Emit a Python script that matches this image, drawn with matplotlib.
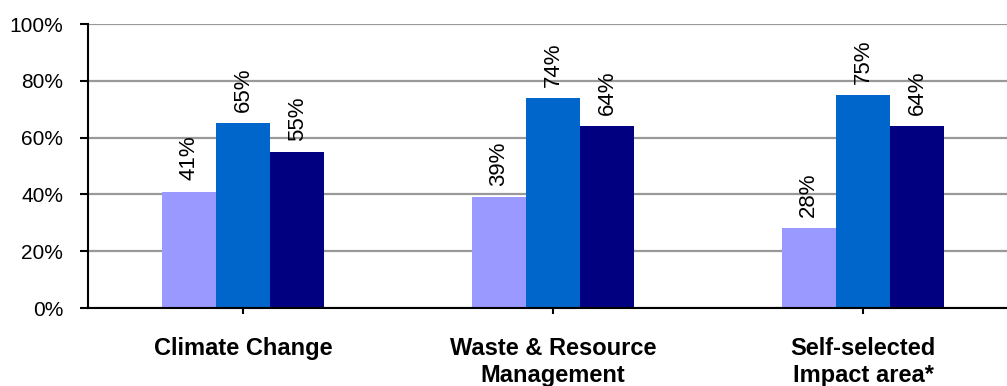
import matplotlib
matplotlib.use("Agg")
import matplotlib.pyplot as plt
import numpy as np

plt.rcParams['font.family'] = ['Liberation Sans', 'DejaVu Sans']

categories = ["Climate Change", "Waste & Resource\nManagement", "Self-selected\nImpact area*"]
series_a = [41, 39, 28]
series_b = [65, 74, 75]
series_c = [55, 64, 64]
y_ticks = [0, 20, 40, 60, 80, 100]
y_tick_labels = ["0%", "20%", "40%", "60%", "80%", "100%"]

colors = ["#9999FF", "#0066CC", "#000080"]

fig = plt.figure(figsize=(10.07, 3.86), dpi=100)
ax = fig.add_axes([88 / 1007, 78 / 386, 919 / 1007, 284 / 386])

x = np.arange(len(categories))
width = 0.175
for i, (vals, col) in enumerate(zip([series_a, series_b, series_c], colors)):
    pos = x + (i - 1) * width
    ax.bar(pos, vals, width=width, color=col, edgecolor='none', zorder=3)
    for p, v in zip(pos, vals):
        ax.annotate(f"{v}%", (p, v), xytext=(0, 8), textcoords='offset points',
                    rotation=90, ha='center', va='bottom', fontsize=16, zorder=4)

ax.set_ylim(0, 100)
ax.set_xlim(-0.5, -0.5 + 919 / 310)
ax.set_yticks(y_ticks)
ax.set_yticklabels(y_tick_labels, fontsize=15)
ax.yaxis.grid(True, color='#999999', linewidth=1.6, zorder=0)
ax.set_axisbelow(True)

ax.set_xticks(x)
ax.set_xticklabels(categories, fontsize=17, fontweight='bold', linespacing=1.2)

for s in ['top', 'right']:
    ax.spines[s].set_visible(False)
for s in ['left', 'bottom']:
    ax.spines[s].set_color('black')
    ax.spines[s].set_linewidth(1.5)
    ax.spines[s].set_zorder(5)

ax.tick_params(axis='y', direction='out', length=6, width=1.5, pad=12)
ax.tick_params(axis='x', direction='inout', length=8, width=1.5, pad=17)

fig.savefig("out.png", dpi=100)
